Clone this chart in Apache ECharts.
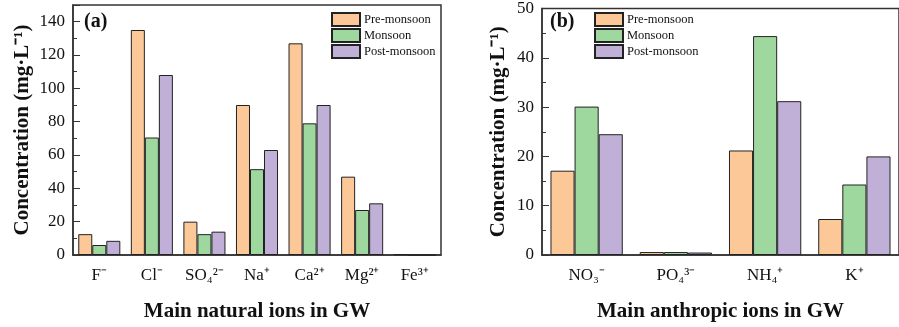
<!DOCTYPE html>
<html>
<head>
<meta charset="utf-8">
<script src="https://cdn.jsdelivr.net/npm/echarts@6/dist/echarts.min.js"></script>
<style>
  html, body { margin: 0; padding: 0; background: #fff; }
  #chart { width: 899px; height: 327px; }
</style>
</head>
<body>
<div id="chart"></div>
<script>
// left panel (a): main natural ions
const naturalIons = ["F⁻", "Cl⁻", "SO₄²⁻", "Na⁺", "Ca²⁺", "Mg²⁺", "Fe³⁺"];
const naturalPre = [12.5, 135, 20, 90, 127, 47, 0.5];
const naturalMon = [6, 70.5, 12.5, 51.5, 79, 27, 0];
const naturalPost = [8.5, 108, 14, 63, 90, 31, 0];

// right panel (b): main anthropic ions
const anthropicIons = ["NO₃⁻", "PO₄³⁻", "NH₄⁺", "K⁺"];
const anthropicPre = [17.1, 0.6, 21.2, 7.3];
const anthropicMon = [30.1, 0.6, 44.4, 14.3];
const anthropicPost = [24.5, 0.5, 31.2, 20];

const seasons = ["Pre-monsoon", "Monsoon", "Post-monsoon"];
const colors = ["#fdc897", "#9fd89f", "#c0b0d7"];

const font = "'Liberation Serif', 'Times New Roman', serif";

var chartDom = document.getElementById("chart");
var myChart = echarts.init(chartDom);

function yAxisFor(gridIndex, max, interval) {
  return {
    type: "value",
    gridIndex: gridIndex,
    min: 0,
    max: max,
    interval: interval,
    name: "Concentration (mg·L⁻¹)",
    nameLocation: "middle",
    nameGap: gridIndex === 0 ? 40 : 33,
    nameTextStyle: { fontFamily: font, fontWeight: "bold", fontSize: 21, color: "#111" },
    axisLine: { show: true, lineStyle: { color: "#333", width: 1.5 } },
    axisTick: { show: true, inside: true, length: 7, lineStyle: { color: "#333" } },
    minorTick: { show: true, splitNumber: 2, length: 4, lineStyle: { color: "#333" } },
    splitLine: { show: false },
    axisLabel: {
      fontFamily: font, fontSize: 17, color: "#111", margin: 8,
      showMaxLabel: gridIndex === 1
    }
  };
}

function xAxisFor(gridIndex, cats, name) {
  return {
    type: "category",
    gridIndex: gridIndex,
    data: cats,
    name: name,
    nameLocation: "middle",
    nameGap: 46,
    nameTextStyle: { fontFamily: font, fontWeight: "bold", fontSize: 21, color: "#111" },
    axisLine: { show: true, lineStyle: { color: "#333", width: 1.5 } },
    axisTick: { show: false },
    axisLabel: { fontFamily: font, fontSize: 17, color: "#111", margin: 12 }
  };
}

function barSeries(name, idx, data, axisIndex, gap) {
  return {
    name: name,
    type: "bar",
    xAxisIndex: axisIndex,
    yAxisIndex: axisIndex,
    data: data,
    barGap: "0%",
    barCategoryGap: gap,
    itemStyle: { color: colors[idx], borderColor: "#222", borderWidth: 1 }
  };
}

function legendAt(left) {
  return {
    data: seasons,
    orient: "vertical",
    left: left,
    top: 12,
    padding: 0,
    itemWidth: 28,
    itemHeight: 13,
    itemGap: 1,
    icon: "rect",
    textStyle: { fontFamily: font, fontSize: 12.5, color: "#111", padding: [0, 0, 0, -1] }
  };
}

let option = {
  animation: false,
  backgroundColor: "#fff",
  grid: [
    { left: 73, top: 5, width: 368, bottom: 71, show: true, borderColor: "#333", borderWidth: 1.5 },
    { left: 542, top: 5, right: -9, bottom: 71, show: true, borderColor: "#333", borderWidth: 1.5 }
  ],
  legend: [legendAt(331), legendAt(594)],
  xAxis: [
    xAxisFor(0, naturalIons, "Main natural ions in GW"),
    xAxisFor(1, anthropicIons, "Main anthropic ions in GW")
  ],
  yAxis: [yAxisFor(0, 150, 20), yAxisFor(1, 50, 10)],
  graphic: [
    { type: "text", left: 84, top: 12, style: { text: "(a)", fontFamily: font, fontWeight: "bold", fontSize: 20, fill: "#111" } },
    { type: "text", left: 550, top: 12, style: { text: "(b)", fontFamily: font, fontWeight: "bold", fontSize: 20, fill: "#111" } }
  ],
  series: [
    barSeries(seasons[0], 0, naturalPre, 0, "20%"),
    barSeries(seasons[1], 1, naturalMon, 0, "20%"),
    barSeries(seasons[2], 2, naturalPost, 0, "20%"),
    barSeries(seasons[0], 0, anthropicPre, 1, "19%"),
    barSeries(seasons[1], 1, anthropicMon, 1, "19%"),
    barSeries(seasons[2], 2, anthropicPost, 1, "19%")
  ]
};

option && myChart.setOption(option);
</script>
</body>
</html>
